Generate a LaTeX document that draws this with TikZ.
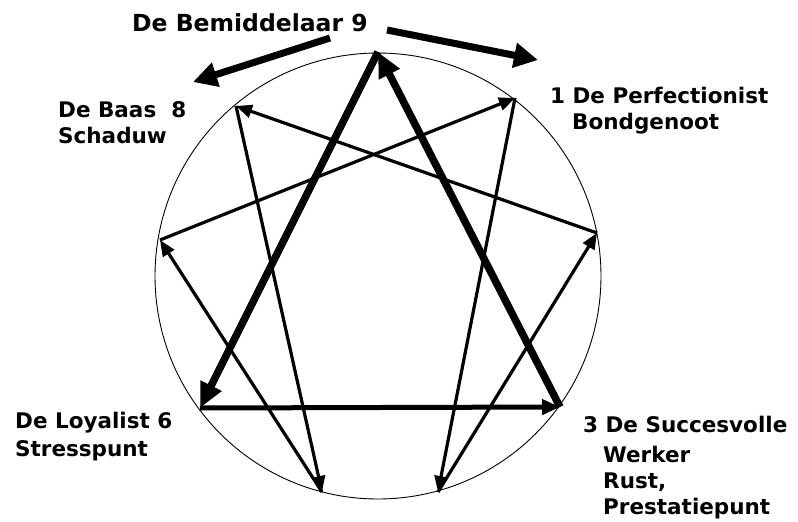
\documentclass[tikz,border=0pt]{standalone}
\usepackage{fontspec}
\setmainfont{DejaVu Sans}
\usetikzlibrary{arrows.meta}
\begin{document}
\begin{tikzpicture}[x=1pt,y=-1pt,
  ring/.style={line width=0.9pt},
  thinarrow/.style={line width=3.2pt,-{Triangle[length=16pt,width=13pt]}},
  thickarrow/.style={line width=7.5pt,-{Triangle[length=25pt,width=22pt]}},
  midarrow/.style={line width=5pt,-{Triangle[length=18pt,width=15pt]}},
  deco/.style={line width=7pt,-{Triangle[length=24pt,width=24pt]}},
  lbl/.style={anchor=base west,inner sep=0pt,font=\fontsize{21.5}{26}\selectfont\bfseries},
  ttl/.style={anchor=base west,inner sep=0pt,font=\fontsize{23.5}{28}\selectfont\bfseries}
]
\useasboundingbox (0,0) rectangle (798,522);
\fill[white] (0,0) rectangle (798,522);

% circle
\node[circle,draw,ring,minimum size=446pt,inner sep=0pt] (ring) at (378,276) {};

% points
\coordinate (p9) at (378,52);
\coordinate (p1) at (515,98);
\coordinate (p2) at (597,233);
\coordinate (p3) at (560,407);
\coordinate (p4) at (438,492);
\coordinate (p5) at (322,492);
\coordinate (p6) at (200,408);
\coordinate (p7) at (160,240);
\coordinate (p8) at (236,106);

% thin arrows 1-4-2-8-5-7-1
\draw[thinarrow] (p1) -- (p4);
\draw[thinarrow] (p4) -- (p2);
\draw[thinarrow] (p2) -- (p8);
\draw[thinarrow] (p8) -- (p5);
\draw[thinarrow] (p5) -- (p7);
\draw[thinarrow] (p7) -- (p1);

% thick triangle 9-6-3-9
\draw[thickarrow] (p9) -- (p6);
\draw[midarrow] (p6) -- (p3);
\draw[thickarrow] (p3) -- (p9);

% decorative arrows at top
\coordinate (dls) at (330,38);
\coordinate (dle) at (193,82);
\coordinate (drs) at (387,30);
\coordinate (dre) at (538,60);
\draw[deco] (dls) -- (dle);
\draw[deco] (drs) -- (dre);

% labels
\node[ttl] (t9) at (132,31) {De Bemiddelaar 9};
\node[lbl] (t1a) at (550,103) {1 De Perfectionist};
\node[lbl] (t1b) at (572,129) {Bondgenoot};
\node[lbl] (t8a) at (58,117) {De Baas\ \ 8};
\node[lbl] (t8b) at (58,143) {Schaduw};
\node[lbl] (t6a) at (15,428) {De Loyalist 6};
\node[lbl] (t6b) at (15,456) {Stresspunt};
\node[lbl] (t3a) at (583,432) {3 De Succesvolle};
\node[lbl] (t3b) at (603,462) {Werker};
\node[lbl] (t3c) at (603,488) {Rust,};
\node[lbl] (t3d) at (603,514) {Prestatiepunt};
\end{tikzpicture}
\end{document}
